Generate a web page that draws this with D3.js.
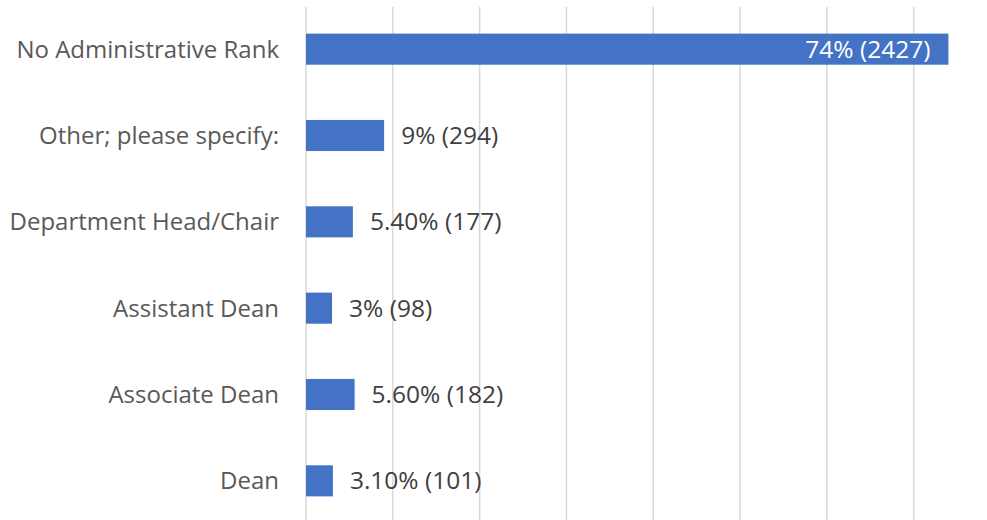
<!DOCTYPE html>
<html>
<head>
<meta charset="utf-8">
<script src="https://cdn.jsdelivr.net/npm/d3@7"></script>
<style>
  body { margin: 0; background: #fff; }
  svg { display: block; font-family: "Open Sans", Lato, sans-serif; }
</style>
</head>
<body>
<script>
// data, top to bottom as in the picture
var categories = ["No Administrative Rank", "Other; please specify:", "Department Head/Chair",
                  "Assistant Dean", "Associate Dean", "Dean"];
var percents = [74, 9, 5.4, 3, 5.6, 3.1];
var labels = ["74% (2427)", "9% (294)", "5.40% (177)", "3% (98)", "5.60% (182)", "3.10% (101)"];
var gridTicks = [0, 10, 20, 30, 40, 50, 60, 70];

var rows = categories.map(function (c, i) {
  return { cat: c, val: percents[i], label: labels[i] };
});

var width = 987, height = 520;

var svg = d3.select("body").append("svg")
  .attr("width", width)
  .attr("height", height);

// the plot runs past the right and bottom edges (the picture is cropped)
var x = d3.scaleLinear()
  .domain([0, 80])
  .range([306, 1000.5]);

var y = d3.scaleBand()
  .domain(categories)
  .range([6, 524])
  .paddingInner(0.64)
  .paddingOuter(0.32);

// vertical gridlines
svg.append("g")
  .selectAll("line")
  .data(gridTicks)
  .enter()
  .append("line")
    .attr("x1", function (d) { return x(d); })
    .attr("x2", function (d) { return x(d); })
    .attr("y1", 7)
    .attr("y2", 524)
    .style("stroke", "#d9d9d9")
    .style("stroke-width", 1.5);

// category labels
svg.append("g")
  .style("font-size", "24px")
  .selectAll("text")
  .data(rows)
  .enter()
  .append("text")
    .attr("x", 279)
    .attr("y", function (d) { return y(d.cat) + y.bandwidth() / 2; })
    .attr("dy", "0.35em")
    .attr("text-anchor", "end")
    .style("fill", "#595959")
    .text(function (d) { return d.cat; });

// bars
svg.append("g")
  .selectAll("rect")
  .data(rows)
  .enter()
  .append("rect")
    .attr("x", x(0))
    .attr("y", function (d) { return y(d.cat); })
    .attr("width", function (d) { return x(d.val) - x(0); })
    .attr("height", y.bandwidth())
    .style("fill", "#4472c4");

// value labels: inside the long bar, outside the short ones
svg.append("g")
  .style("font-size", "24.5px")
  .selectAll("text")
  .data(rows)
  .enter()
  .append("text")
    .attr("x", function (d) { return d.val > 50 ? x(d.val) - 18 : x(d.val) + 17; })
    .attr("y", function (d) { return y(d.cat) + y.bandwidth() / 2; })
    .attr("dy", "0.35em")
    .attr("text-anchor", function (d) { return d.val > 50 ? "end" : "start"; })
    .style("fill", function (d) { return d.val > 50 ? "#ffffff" : "#404040"; })
    .text(function (d) { return d.label; });
</script>
</body>
</html>
